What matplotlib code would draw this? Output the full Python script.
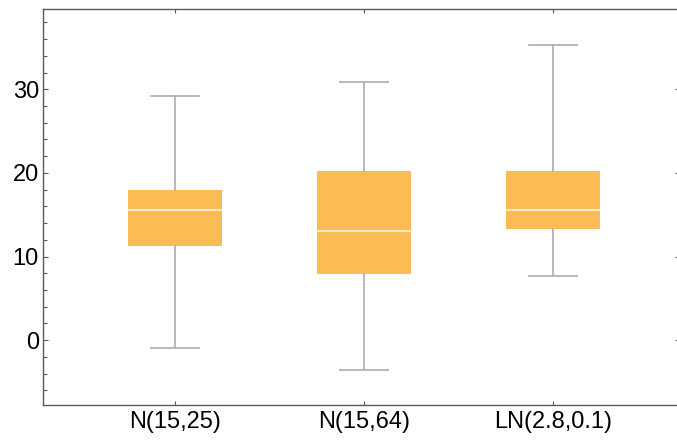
import numpy as np
import matplotlib.pyplot as plt
from matplotlib.ticker import MultipleLocator

plt.rcParams['font.family'] = ['Liberation Sans', 'DejaVu Sans']

# box statistics
labels = ['N(15,25)', 'N(15,64)', 'LN(2.8,0.1)']
whislo = [-0.96, -3.52, 7.63]
q1 = [11.2, 7.88, 13.27]
med = [15.55, 13.08, 15.52]
q3 = [17.9, 20.2, 20.28]
whishi = [29.16, 30.88, 35.35]

stats = []
for i in range(len(labels)):
    stats.append(dict(label=labels[i], whislo=whislo[i], q1=q1[i], med=med[i],
                      q3=q3[i], whishi=whishi[i], fliers=[]))

fig = plt.figure(figsize=(6.77, 4.42), dpi=100)
# right spine sits just past the image edge, like the reference
ax = fig.add_axes([43 / 677, 1 - 405 / 442, 637 / 677, 396 / 442])

orange = '#fbbb55'
gray = '#b3b3b3'
ax.bxp(stats, positions=[1, 2, 3], widths=0.5, capwidths=0.25,
       patch_artist=True, showfliers=False,
       boxprops=dict(facecolor=orange, edgecolor=orange, linewidth=0),
       medianprops=dict(color='#fff3dc', linewidth=1.2),
       whiskerprops=dict(color=gray, linewidth=1.3),
       capprops=dict(color=gray, linewidth=1.3))

ax.set_xlim(0.3016, 3.672)
ax.set_ylim(-7.76, 39.6)
ax.yaxis.set_major_locator(MultipleLocator(10))
ax.yaxis.set_minor_locator(MultipleLocator(2))

for s in ax.spines.values():
    s.set_color('#5a5a5a')
    s.set_linewidth(1.0)

ax.tick_params(axis='both', which='both', direction='in', colors='#5a5a5a',
               labelcolor='black', labelsize=17, width=0.8)
ax.tick_params(axis='y', which='major', length=3.5, right=True, pad=3)
ax.tick_params(axis='y', which='minor', length=3)
ax.tick_params(axis='x', which='major', length=3, top=True, pad=4)

plt.savefig('out.png', dpi=100)
